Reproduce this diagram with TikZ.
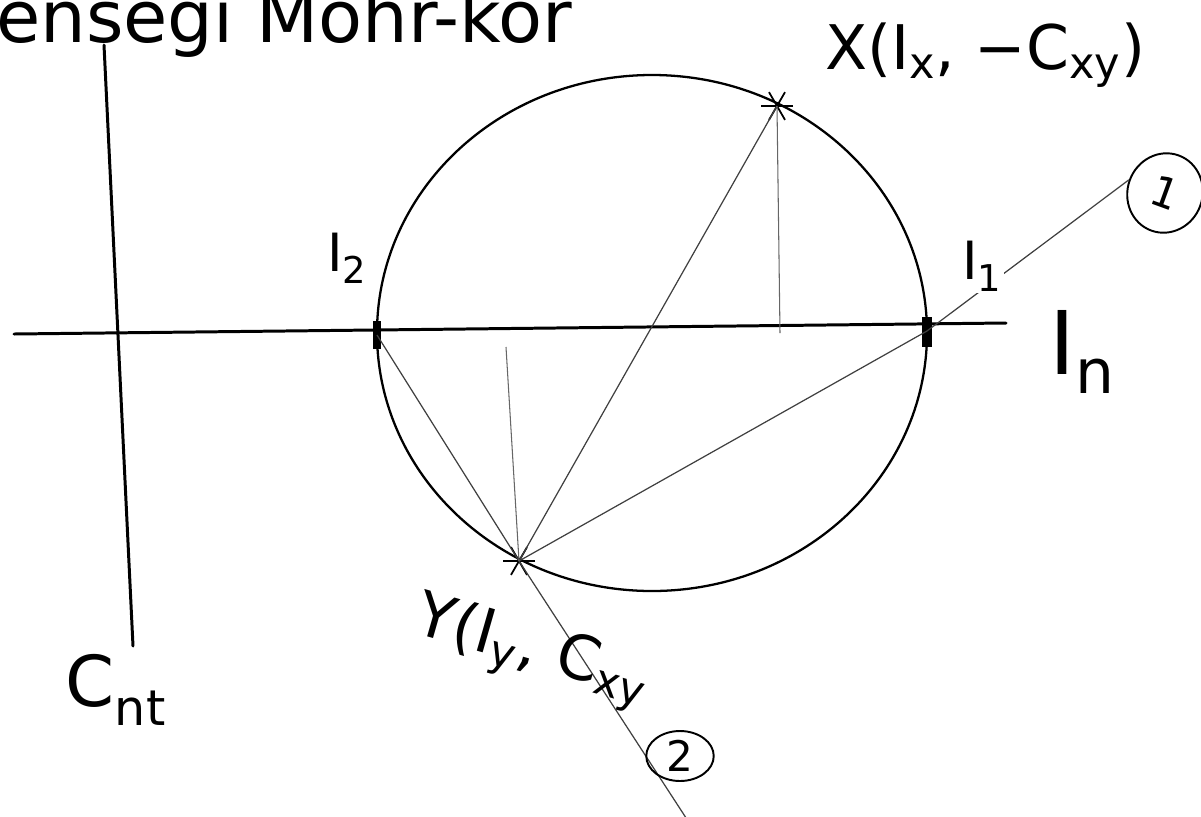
\documentclass[tikz,border=0pt]{standalone}
\usepackage{fontspec}
\setmainfont{DejaVu Sans}
\usetikzlibrary{shapes.geometric}

\begin{document}
\begin{tikzpicture}[x=0.02cm, y=-0.02cm]
\tikzset{
    every node/.style={align=center, inner sep=1pt},
    axis/.style={line width=1.7pt, line cap=round},
    mohr/.style={line width=1.3pt},
    chord/.style={line width=0.7pt, black!75},
    helper/.style={line width=0.6pt, black!60},
    hand/.style={font=\fontsize{35}{40}\selectfont},
    numring/.style={draw, line width=1.1pt, ellipse, font=\fontsize{24}{28}\selectfont}
}
\useasboundingbox (0,0) rectangle (1201,816);
\clip (0,0) rectangle (1201,816);

\node[anchor=base west, font=\fontsize{41}{48}\selectfont] (title) at (-6,42) {ensegi Mohr-kör};

% axes
\coordinate (vtop) at (104,45);
\coordinate (vbot) at (133,646);
\coordinate (hl) at (14,334);
\coordinate (hr) at (1006,323);
\draw[axis] (vtop) -- (vbot);
\draw[axis] (hl) -- (hr);

% points of the circle
\coordinate (M) at (652,333);
\coordinate (I2) at (377,335);
\coordinate (I1) at (927,331);
\coordinate (X) at (777,106);
\coordinate (Y) at (519,561);
\coordinate (Xf) at (780,333);
\coordinate (Yf) at (506,347);
\coordinate (tail) at (690,824);

\draw[mohr] (M) ellipse [x radius=275, y radius=258];

\fill (I2) +(-4,-14) rectangle +(4,14);
\fill (I1) +(-5,-14) rectangle +(5,16);
\foreach \a in {0,60,120} {
    \draw[line width=1pt] (X) +(\a:16) -- +(\a+180:16);
    \draw[line width=1pt] (Y) +(\a:16) -- +(\a+180:16);
}

% construction lines
\draw[chord] (Y) -- (I2);
\draw[chord] (Y) -- (I1);
\draw[chord] (Y) -- (X);
\draw[helper] (X) -- (Xf);
\draw[helper] (Y) -- (Yf);
\draw[chord] (Y) -- (tail);

% labels
\node[numring, minimum width=1.5cm, minimum height=1.6cm, rotate=-20] (c1) at (1165,193) {1};
\node[numring, minimum width=1.35cm, minimum height=1.0cm] (c2) at (680,756) {2};
\draw[chord] (I1) -- (c1.west);

\node[hand] (Xlab) at (985,55) {X(I\textsubscript{x}, −C\textsubscript{xy})};
\node[hand, rotate=-16] (Ylab) at (532,652) {Y(I\textsubscript{y}, C\textsubscript{xy}};
\node[font=\fontsize{30}{34}\selectfont] (I2lab) at (347,258) {I\textsubscript{2}};
\node[font=\fontsize{30}{34}\selectfont, fill=white] (I1lab) at (982,266) {I\textsubscript{1}};
\node[font=\fontsize{50}{56}\selectfont] (In) at (1082,352) {I\textsubscript{n}};
\node[font=\fontsize{40}{46}\selectfont] (Cnt) at (116,690) {C\textsubscript{nt}};
\end{tikzpicture}
\end{document}
